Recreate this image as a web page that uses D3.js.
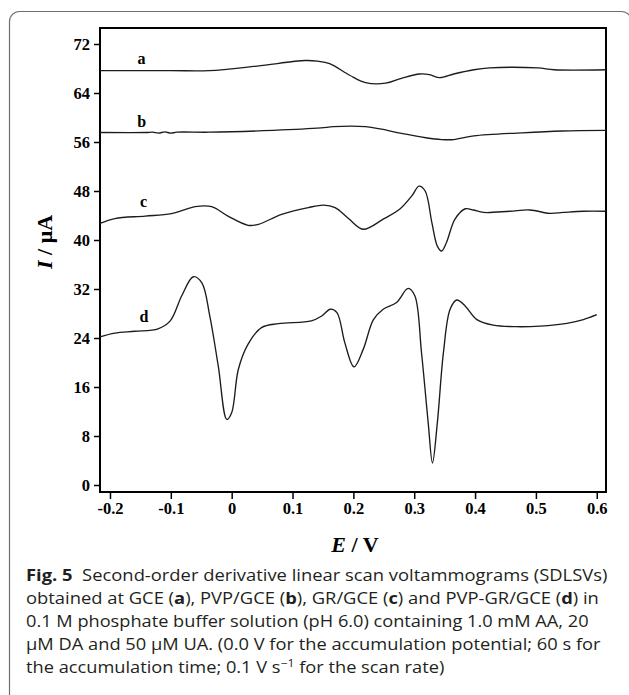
<!DOCTYPE html>
<html>
<head>
<meta charset="utf-8">
<script src="https://cdn.jsdelivr.net/npm/d3@7"></script>
<style>
  html, body { margin: 0; padding: 0; background: #fff; }
  svg { display: block; }
</style>
</head>
<body>
<svg id="chart" width="629" height="695"></svg>
<script>
// ---- data ----
const seriesNames = ["a", "b", "c", "d"];

const potentialA = [-0.2164, -0.10, -0.037, 0.042, 0.121, 0.141, 0.161, 0.194, 0.220, 0.253, 0.279, 0.309, 0.325, 0.342, 0.365, 0.398, 0.424, 0.503, 0.530, 0.6152];
const currentA   = [67.65, 67.65, 67.65, 68.4, 69.3, 69.2, 68.8, 66.9, 65.7, 65.6, 66.4, 67.1, 67.0, 66.5, 67.1, 67.8, 68.1, 68.1, 67.8, 67.8];

const potentialB = [-0.2164, -0.14, -0.13, -0.12, -0.11, -0.10, -0.09, -0.037, 0.068, 0.147, 0.167, 0.220, 0.246, 0.279, 0.319, 0.345, 0.365, 0.398, 0.477, 0.543, 0.6152];
const currentB   = [57.55, 57.55, 57.6, 57.45, 57.65, 57.45, 57.6, 57.6, 57.9, 58.3, 58.5, 58.5, 58.1, 57.4, 56.7, 56.4, 56.4, 57.0, 57.5, 57.8, 57.9];

const potentialC = [-0.2164, -0.192, -0.142, -0.099, -0.060, -0.033, -0.006, 0.027, 0.044, 0.082, 0.126, 0.151, 0.170, 0.192, 0.216, 0.249, 0.277, 0.296, 0.308, 0.318, 0.329, 0.338, 0.345, 0.353, 0.367, 0.384, 0.397, 0.414, 0.457, 0.490, 0.523, 0.545, 0.578, 0.6152];
const currentC   = [42.7, 43.5, 43.9, 44.3, 45.45, 45.45, 43.9, 42.4, 42.55, 44.2, 45.3, 45.7, 45.3, 43.5, 41.75, 43.4, 45.1, 47.2, 48.8, 48.0, 42.85, 39.0, 38.2, 39.6, 43.4, 45.1, 44.9, 44.5, 44.7, 44.9, 44.35, 44.5, 44.7, 44.7];

const potentialD = [-0.2164, -0.192, -0.159, -0.121, -0.101, -0.082, -0.063, -0.049, -0.036, -0.022, -0.008, 0.000, 0.011, 0.027, 0.049, 0.077, 0.131, 0.148, 0.162, 0.173, 0.186, 0.201, 0.216, 0.233, 0.249, 0.271, 0.290, 0.301, 0.312, 0.323, 0.330, 0.338, 0.348, 0.359, 0.370, 0.384, 0.403, 0.430, 0.468, 0.507, 0.551, 0.578, 0.600];
const currentD   = [24.2, 24.8, 25.1, 25.5, 26.8, 30.9, 34.0, 33.0, 27.6, 19.4, 10.7, 11.8, 18.9, 23.0, 25.7, 26.35, 26.8, 27.6, 28.7, 28.15, 23.2, 19.3, 22.1, 27.0, 28.7, 29.8, 32.1, 30.9, 21.6, 10.15, 3.6, 10.15, 21.6, 28.7, 30.2, 29.2, 27.0, 26.1, 25.85, 25.95, 26.4, 27.0, 27.8];

const labelPotential = [-0.148, -0.148, -0.145, -0.144];
const labelCurrent   = [68.7, 58.45, 45.4, 26.6];

const yTickValues = [0, 8, 16, 24, 32, 40, 48, 56, 64, 72];
const xTickValues = [-0.2, -0.1, 0, 0.1, 0.2, 0.3, 0.4, 0.5, 0.6];
const xTickLabels = ["-0.2", "-0.1", "0", "0.1", "0.2", "0.3", "0.4", "0.5", "0.6"];

// ---- drawing ----
const svg = d3.select("#chart");
const serif = "'Liberation Serif', 'Times New Roman', serif";
const sans = "'Open Sans', 'Noto Sans', sans-serif";

// outer rounded panel (right edge just outside the view)
svg.append("rect")
  .attr("x", 9.5).attr("y", 11.5)
  .attr("width", 622).attr("height", 720)
  .attr("rx", 10).attr("ry", 10)
  .attr("fill", "none").attr("stroke", "#6e6e6e").attr("stroke-width", 1.2);

const x = d3.scaleLinear().domain([-0.2164, 0.6152]).range([100, 606]);
const y = d3.scaleLinear().domain([0, 72]).range([485, 44]);

// axes
const yAxis = d3.axisLeft(y).tickValues(yTickValues).tickSize(6).tickPadding(4);
const gy = svg.append("g").attr("transform", "translate(100,0)").call(yAxis);
gy.select(".domain").remove();
gy.selectAll(".tick line").attr("stroke", "#000").attr("stroke-width", 1.5);
gy.selectAll(".tick text")
  .attr("font-family", serif).attr("font-weight", "bold")
  .attr("font-size", 16.5).attr("fill", "#000");

const xAxis = d3.axisBottom(x).tickValues(xTickValues).tickSize(7).tickPadding(3)
  .tickFormat((d, i) => xTickLabels[i]);
const gx = svg.append("g").attr("transform", "translate(0,492)").call(xAxis);
gx.select(".domain").remove();
gx.selectAll(".tick line").attr("stroke", "#000").attr("stroke-width", 1.5);
gx.selectAll(".tick text")
  .attr("font-family", serif).attr("font-weight", "bold")
  .attr("font-size", 16.5).attr("fill", "#000");

// frame
svg.append("rect")
  .attr("x", 100).attr("y", 28)
  .attr("width", 506).attr("height", 464)
  .attr("fill", "none").attr("stroke", "#000").attr("stroke-width", 2);

// curves
const allPotentials = [potentialA, potentialB, potentialC, potentialD];
const allCurrents = [currentA, currentB, currentC, currentD];
const line = d3.line()
  .x(d => x(d[0])).y(d => y(d[1]))
  .curve(d3.curveCatmullRom.alpha(0.5));

seriesNames.forEach((name, k) => {
  const pts = allPotentials[k].map((e, i) => [e, allCurrents[k][i]]);
  svg.append("path")
    .datum(pts)
    .attr("d", line)
    .attr("fill", "none")
    .attr("stroke", "#1c1c1c")
    .attr("stroke-width", 1.35)
    .attr("stroke-linejoin", "round");
  svg.append("text")
    .attr("x", x(labelPotential[k])).attr("y", y(labelCurrent[k]))
    .attr("text-anchor", "middle")
    .attr("font-family", serif).attr("font-weight", "bold")
    .attr("font-size", 16).attr("fill", "#000")
    .text(name);
});

// axis titles
const yt = svg.append("text")
  .attr("transform", "translate(52,242) rotate(-90)")
  .attr("text-anchor", "middle")
  .attr("font-family", serif).attr("font-weight", "bold")
  .attr("font-size", 22).attr("fill", "#000");
yt.append("tspan").attr("font-style", "italic").text("I");
yt.append("tspan").text(" / μA");

const xt = svg.append("text")
  .attr("x", 355).attr("y", 552)
  .attr("text-anchor", "middle")
  .attr("font-family", serif).attr("font-weight", "bold")
  .attr("font-size", 22).attr("fill", "#000");
xt.append("tspan").attr("font-style", "italic").text("E");
xt.append("tspan").text("  / V");

// caption
const captionLines = [
  [["Fig. 5", true], ["  Second-order derivative linear scan voltammograms (SDLSVs)", false]],
  [["obtained at GCE (", false], ["a", true], ["), PVP/GCE (", false], ["b", true], ["), GR/GCE (", false], ["c", true], [") and PVP-GR/GCE (", false], ["d", true], [") in", false]],
  [["0.1 M phosphate buffer solution (pH 6.0) containing 1.0 mM AA, 20", false]],
  [["μM DA and 50 μM UA. (0.0 V for the accumulation potential; 60 s for", false]],
  [["the accumulation time; 0.1 V s", false], ["−1", false, true], [" for the scan rate)", false]]
];
const captionBaselines = [581, 604, 627, 650, 673];
const captionEnds = [608, 599, 589, 601, 445];
const capX = 26;

captionLines.forEach((parts, i) => {
  const t = svg.append("text")
    .attr("x", capX).attr("y", captionBaselines[i])
    .attr("font-family", sans).attr("font-size", 16.5).attr("fill", "#231f20")
    .style("white-space", "pre");
  parts.forEach((p, j) => {
    const ts = t.append("tspan").text(p[0]);
    if (p[1]) ts.attr("font-weight", "bold");
    if (p[2]) ts.attr("font-size", 11).attr("dy", -6);
    const prev = parts[j - 1];
    if (prev && prev[2]) ts.attr("dy", 6);
  });
  const w = t.node().getBBox().width;
  const sx = (captionEnds[i] - capX) / w;
  t.attr("transform", `translate(${capX},0) scale(${sx},1) translate(${-capX},0)`);
});
</script>
</body>
</html>
